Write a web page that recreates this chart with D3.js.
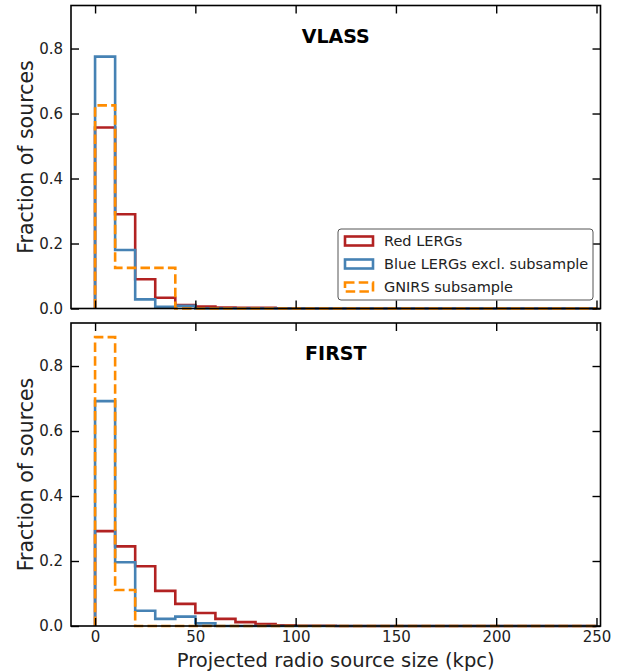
<!DOCTYPE html>
<html><head><meta charset="utf-8">
<script src="https://cdn.jsdelivr.net/npm/d3@7"></script>
<style>body{margin:0;background:#fff}svg{display:block}text{font-family:"DejaVu Sans",sans-serif}</style>
</head><body><svg id="c" width="624" height="672"></svg>
<script>
const binEdges = d3.range(0, 250, 10); // 0..240
const xTicks = [0, 50, 100, 150, 200, 250];
const yTicks = [0, 0.2, 0.4, 0.6, 0.8];
const panelTitles = ["VLASS", "FIRST"];
const seriesNames = ["Red LERGs", "Blue LERGs excl. subsample", "GNIRS subsample"];
// VLASS fractions per 10 kpc bin
const vlassRed   = [0.557, 0.290, 0.090, 0.033, 0.011, 0.006, 0.003, 0.002, 0.002, 0.001, 0,0,0,0,0,0,0,0,0,0,0,0,0,0];
const vlassBlue  = [0.775, 0.180, 0.028, 0.005, 0.008, 0, 0,0,0,0,0,0,0,0,0,0,0,0,0,0,0,0,0,0];
const vlassGnirs = [0.625, 0.125, 0.125, 0.125, 0, 0,0,0,0,0,0,0,0,0,0,0,0,0,0,0,0,0,0,0];
// FIRST fractions per 10 kpc bin
const firstRed   = [0.292, 0.245, 0.184, 0.108, 0.068, 0.040, 0.022, 0.012, 0.006, 0.002, 0.001, 0.001, 0,0,0,0,0,0,0,0,0,0,0,0];
const firstBlue  = [0.692, 0.196, 0.047, 0.022, 0.029, 0.008, 0,0,0,0,0,0,0,0,0,0,0,0,0,0,0,0,0,0];
const firstGnirs = [0.889, 0.111, 0, 0,0,0,0,0,0,0,0,0,0,0,0,0,0,0,0,0,0,0,0,0];

const colors = ["#b22222", "#4682b4", "#ff8c00"];
const panels = [
  {title: panelTitles[0], series: [vlassRed, vlassBlue, vlassGnirs], top: 5.5, bottom: 308.5, legend: true, xlabels: false},
  {title: panelTitles[1], series: [firstRed, firstBlue, firstGnirs], top: 323, bottom: 626, legend: false, xlabels: true}
];
const L = 71, R = 600.5;
const x = d3.scaleLinear().domain([-12, 252]).range([L, R]);
const svg = d3.select("#c");

function stepPath(vals, y) {
  const pts = [[binEdges[0], 0]];
  vals.forEach((v, i) => { pts.push([binEdges[i], v]); pts.push([binEdges[i] + 10, v]); });
  pts.push([binEdges[binEdges.length - 1] + 10, 0]);
  return d3.line().x(d => x(d[0])).y(d => y(d[1]))(pts);
}

panels.forEach(p => {
  const y = d3.scaleLinear().domain([0, 0.9324]).range([p.bottom, p.top]);
  const g = svg.append("g");
  p.series.forEach((vals, k) => {
    g.append("path").attr("d", stepPath(vals, y)).attr("fill", "none")
      .attr("stroke", colors[k]).attr("stroke-width", 2.6)
      .attr("stroke-dasharray", k === 2 ? "9.5,4.2" : null)
      .attr("stroke-linejoin", "miter");
  });
  const tl = 8;
  const ax = g.append("g").attr("transform", `translate(0,${p.bottom})`)
    .call(d3.axisBottom(x).tickValues(xTicks).tickSize(-tl).tickPadding(5).tickFormat(p.xlabels ? d3.format("d") : ""));
  const axT = g.append("g").attr("transform", `translate(0,${p.top})`)
    .call(d3.axisTop(x).tickValues(xTicks).tickSize(-tl).tickFormat(""));
  const ay = g.append("g").attr("transform", `translate(${L},0)`)
    .call(d3.axisLeft(y).tickValues(yTicks).tickSize(-tl).tickPadding(8).tickFormat(d3.format(".1f")));
  const ayR = g.append("g").attr("transform", `translate(${R},0)`)
    .call(d3.axisRight(y).tickValues(yTicks).tickSize(-tl).tickFormat(""));
  [ax, axT, ay, ayR].forEach(a => {
    a.select(".domain").remove();
    a.selectAll(".tick line").attr("stroke", "#000").attr("stroke-width", 1.4);
    a.selectAll("text").attr("font-size", 15).attr("fill", "#222").style("font-family", "DejaVu Sans");
  });
  g.append("rect").attr("x", L).attr("y", p.top).attr("width", R - L).attr("height", p.bottom - p.top)
    .attr("fill", "none").attr("stroke", "#000").attr("stroke-width", 1.6);
  g.append("text").attr("x", (L + R) / 2).attr("y", p.top + 37).attr("text-anchor", "middle")
    .attr("font-size", 19).attr("font-weight", "bold").text(p.title);
  g.append("text").attr("transform", `translate(33,${(p.top + p.bottom) / 2}) rotate(-90)`)
    .attr("text-anchor", "middle").attr("font-size", 20.5).attr("fill", "#222").text("Fraction of sources");
  if (p.legend) {
    const lg = g.append("g").attr("transform", "translate(338,229)");
    lg.append("rect").attr("width", 255).attr("height", 71).attr("rx", 3)
      .attr("fill", "#fff").attr("fill-opacity", 0.85).attr("stroke", "#555").attr("stroke-width", 1);
    seriesNames.forEach((name, k) => {
      const cy = 12 + k * 23;
      lg.append("rect").attr("x", 7).attr("y", cy - 4.5).attr("width", 28).attr("height", 9)
        .attr("fill", "none").attr("stroke", colors[k]).attr("stroke-width", 2.6)
        .attr("stroke-dasharray", k === 2 ? "9.5,4.2" : null);
      lg.append("text").attr("x", 46).attr("y", cy + 5).attr("font-size", 14.5).attr("fill", "#222").text(name);
    });
  }
});
svg.append("text").attr("x", (L + R) / 2).attr("y", 667).attr("text-anchor", "middle")
  .attr("font-size", 19.5).attr("fill", "#222").text("Projected radio source size (kpc)");
</script></body></html>
